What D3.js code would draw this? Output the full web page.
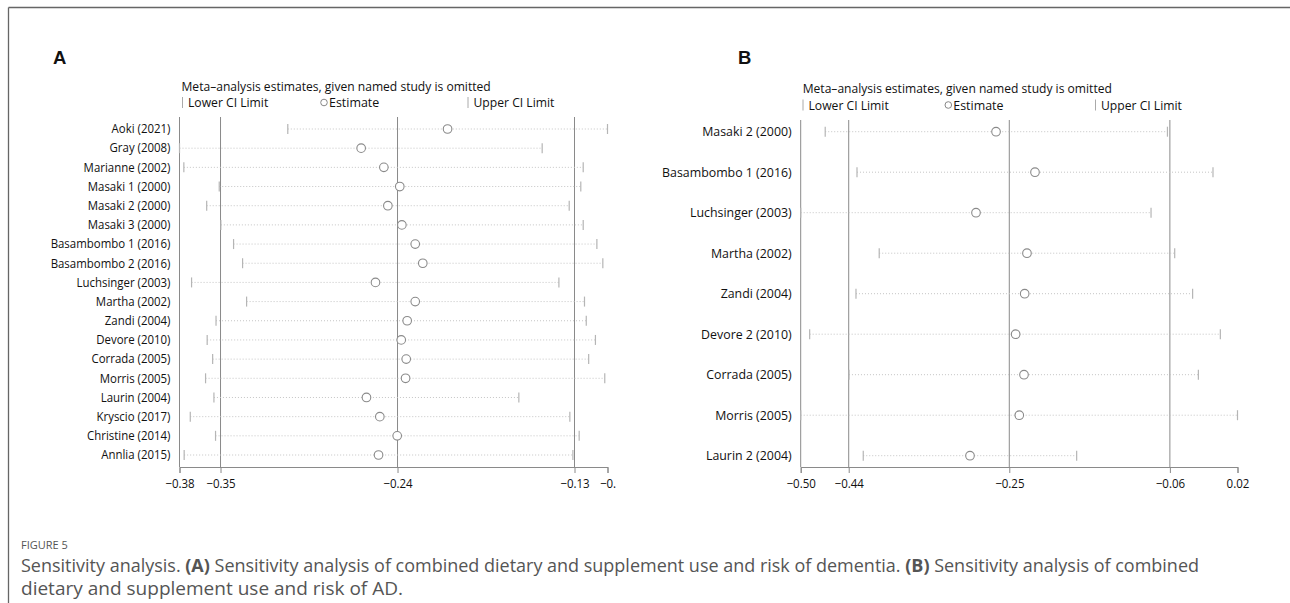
<!DOCTYPE html>
<html><head><meta charset="utf-8">
<script src="https://cdn.jsdelivr.net/npm/d3@7"></script>
<style>
body{margin:0;background:#fff;}
svg{display:block;}
</style></head>
<body>
<svg id="c" width="1290" height="603"></svg>
<script>
// ---- Panel A data ----
const studiesA = ["Aoki (2021)","Gray (2008)","Marianne (2002)","Masaki 1 (2000)","Masaki 2 (2000)","Masaki 3 (2000)","Basambombo 1 (2016)","Basambombo 2 (2016)","Luchsinger (2003)","Martha (2002)","Zandi (2004)","Devore (2010)","Corrada (2005)","Morris (2005)","Laurin (2004)","Kryscio (2017)","Christine (2014)","Annlia (2015)"];
const lowerA = [-0.3082,-0.3755,-0.3728,-0.3508,-0.3586,-0.3498,-0.3419,-0.3363,-0.3680,-0.3338,-0.3528,-0.3583,-0.3549,-0.3593,-0.3541,-0.3688,-0.3531,-0.3726];
const estA   = [-0.2089,-0.2626,-0.2485,-0.2386,-0.2460,-0.2373,-0.2290,-0.2243,-0.2537,-0.2290,-0.2340,-0.2377,-0.2346,-0.2350,-0.2593,-0.2510,-0.2402,-0.2518];
const upperA = [-0.1095,-0.1501,-0.1246,-0.1261,-0.1333,-0.1246,-0.1161,-0.1124,-0.1397,-0.1238,-0.1227,-0.1170,-0.1212,-0.1112,-0.1646,-0.1329,-0.1271,-0.1310];
const refA = [-0.35,-0.24,-0.13];
const tickValsA = [-0.3755,-0.35,-0.24,-0.13,-0.1095];
const tickLabsA = ["\u22120.38","\u22120.35","\u22120.24","\u22120.13","\u22120."];

// ---- Panel B data ----
const studiesB = ["Masaki 2 (2000)","Basambombo 1 (2016)","Luchsinger (2003)","Martha (2002)","Zandi (2004)","Devore 2 (2010)","Corrada (2005)","Morris (2005)","Laurin 2 (2004)"];
const lowerB = [-0.4678,-0.4302,-0.4968,-0.4039,-0.4314,-0.4862,-0.4397,-0.4968,-0.4228];
const estB   = [-0.2657,-0.2196,-0.2894,-0.2291,-0.2318,-0.2425,-0.2326,-0.2382,-0.2965];
const upperB = [-0.0629,-0.0090,-0.0823,-0.0543,-0.0331,-0.0003,-0.0263,0.0200,-0.1703];
const refB = [-0.44,-0.25,-0.06];
const tickValsB = [-0.4968,-0.44,-0.25,-0.06,0.02];
const tickLabsB = ["\u22120.50","\u22120.44","\u22120.25","\u22120.06","0.02"];

const FONT = "'Open Sans','Noto Sans',sans-serif";
const svg = d3.select("#c");

function condense(sel, f){
  sel.each(function(){
    const w = this.getComputedTextLength();
    d3.select(this).attr("textLength", w*f).attr("lengthAdjust","spacingAndGlyphs");
  });
  return sel;
}

// frame
svg.append("line").attr("x1",8.5).attr("x2",1290).attr("y1",7.5).attr("y2",7.5).attr("stroke","#666").attr("stroke-width",1.3);
svg.append("line").attr("x1",8.5).attr("x2",8.5).attr("y1",7.5).attr("y2",603).attr("stroke","#666").attr("stroke-width",1.3);

function panel(cfg){
  const g = svg.append("g");
  const x = d3.scaleLinear().domain([cfg.tickVals[0], cfg.tickVals[cfg.tickVals.length-1]]).range([cfg.x0, cfg.x1]);
  const y = d3.scalePoint().domain(cfg.studies).range([cfg.yFirst, cfg.yLast]);
  // letter
  g.append("text").attr("x",cfg.letterX).attr("y",64).text(cfg.letter)
    .attr("font-family","'Liberation Sans',Arial,sans-serif").attr("font-weight","bold").attr("font-size",18.5).attr("fill","#111");
  // title + legend
  condense(g.append("text").attr("x",cfg.x0+2).attr("y",cfg.titleY).text("Meta\u2013analysis estimates, given named study is omitted")
    .attr("font-family",FONT).attr("font-size",13.5).attr("fill","#111"), 0.895);
  const ly = cfg.titleY+16.5;
  const leg = [[cfg.legX[0],"Lower CI Limit","bar"],[cfg.legX[1],"Estimate","circle"],[cfg.legX[2],"Upper CI Limit","bar"]];
  leg.forEach(([lx,t,k])=>{
    if(k==="bar"){
      g.append("line").attr("x1",lx+0.5).attr("x2",lx+0.5).attr("y1",ly-10).attr("y2",ly+1).attr("stroke","#aaa");
      condense(g.append("text").attr("x",lx+6).attr("y",ly).text(t).attr("font-family",FONT).attr("font-size",13.5).attr("fill","#111"),0.9);
    } else {
      g.append("circle").attr("cx",lx).attr("cy",ly-4.5).attr("r",3.3).attr("fill","none").attr("stroke","#888");
      condense(g.append("text").attr("x",lx+5).attr("y",ly).text(t).attr("font-family",FONT).attr("font-size",13.5).attr("fill","#111"),0.92);
    }
  });
  // reference lines
  g.selectAll(".ref").data(cfg.refs).enter().append("line")
    .attr("x1",d=>x(d)).attr("x2",d=>x(d)).attr("y1",cfg.top).attr("y2",cfg.bottom)
    .attr("stroke","#8a8a8a").attr("stroke-width",1);
  // left axis line
  g.append("line").attr("x1",cfg.x0).attr("x2",cfg.x0).attr("y1",cfg.top).attr("y2",cfg.bottom).attr("stroke","#8a8a8a");
  // rows
  cfg.studies.forEach((s,i)=>{
    const yy = y(s);
    g.append("line").attr("x1",x(cfg.lower[i])).attr("x2",x(cfg.upper[i])).attr("y1",yy).attr("y2",yy)
      .attr("stroke","#c4c4c4").attr("stroke-width",1).attr("stroke-dasharray","1,2");
    [cfg.lower[i],cfg.upper[i]].forEach(v=>{
      g.append("line").attr("x1",x(v)).attr("x2",x(v)).attr("y1",yy-cfg.tick).attr("y2",yy+cfg.tick)
        .attr("stroke","#b5b5b5").attr("stroke-width",1.2);
    });
    g.append("circle").attr("cx",x(cfg.est[i])).attr("cy",yy).attr("r",4.3)
      .attr("fill","#fff").attr("stroke","#8a8a8a").attr("stroke-width",1.1);
    condense(g.append("text").attr("x",cfg.labelX).attr("y",yy).attr("dy","0.35em").attr("text-anchor","end")
      .text(s).attr("font-family",FONT).attr("font-size",cfg.labelSize).attr("fill","#111"),0.93);
  });
  // bottom axis
  const ax = d3.axisBottom(x).tickValues(cfg.tickVals).tickFormat((d,i)=>cfg.tickLabs[i]).tickSizeOuter(0).tickSize(6);
  const axg = g.append("g").attr("transform",`translate(0,${cfg.bottom})`).call(ax);
  axg.select(".domain").attr("stroke","#8a8a8a");
  axg.selectAll(".tick line").attr("stroke","#8a8a8a");
  axg.selectAll(".tick text").attr("font-family",FONT).attr("font-size",12.5).attr("fill","#111").attr("dy","0.95em");
  condense(axg.selectAll(".tick text"),0.92);
}

panel({letter:"A",letterX:53,titleY:90.5,legX:[182,324,467.5],
  studies:studiesA,lower:lowerA,est:estA,upper:upperA,refs:refA,tickVals:tickValsA,tickLabs:tickLabsA,
  x0:179.5,x1:607.5,yFirst:129,yLast:455,top:117,bottom:467,labelX:170.5,labelSize:12.3,tick:5});
panel({letter:"B",letterX:738,titleY:93,legX:[802.5,948.3,1095],
  studies:studiesB,lower:lowerB,est:estB,upper:upperB,refs:refB,tickVals:tickValsB,tickLabs:tickLabsB,
  x0:800.7,x1:1237.5,yFirst:131.7,yLast:455.7,top:120,bottom:467,labelX:791.7,labelSize:13.3,tick:5});

// caption
svg.append("text").attr("x",21).attr("y",549).text("FIGURE 5")
  .attr("font-family",FONT).attr("font-size",11).attr("fill","#555");
const cap1 = svg.append("text").attr("x",21).attr("y",572).attr("font-family",FONT).attr("font-size",18).attr("fill","#555");
cap1.append("tspan").text("Sensitivity analysis. ");
cap1.append("tspan").attr("font-weight","bold").text("(A)");
cap1.append("tspan").text(" Sensitivity analysis of combined dietary and supplement use and risk of dementia. ");
cap1.append("tspan").attr("font-weight","bold").text("(B)");
cap1.append("tspan").text(" Sensitivity analysis of combined");
cap1.attr("textLength", 1178).attr("lengthAdjust","spacingAndGlyphs");
svg.append("text").attr("x",21).attr("y",595).attr("font-family",FONT).attr("font-size",18).attr("fill","#555")
  .attr("textLength",382).attr("lengthAdjust","spacingAndGlyphs")
  .text("dietary and supplement use and risk of AD.");
</script>
</body></html>
